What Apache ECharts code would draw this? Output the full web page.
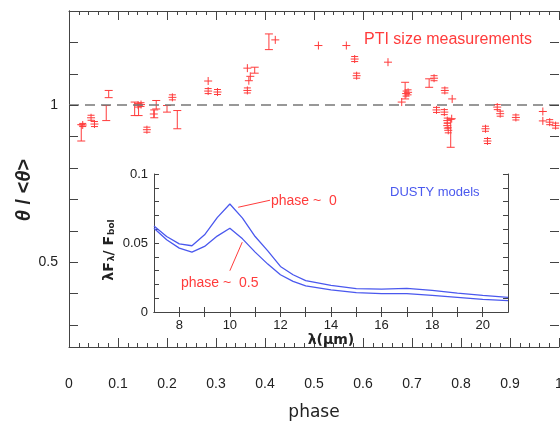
<!DOCTYPE html>
<html>
<head>
<meta charset="utf-8">
<script src="https://cdn.jsdelivr.net/npm/echarts@6/dist/echarts.min.js"></script>
</head>
<body style="margin:0;background:#fff">
<div id="chart" style="width:560px;height:421px"></div>
<script>
// PTI size measurements: [phase, theta/<theta>, half error]
var ptiPoints = [
    [0.028, 0.937, 0.005], [0.045, 0.960, 0.008], [0.052, 0.940, 0.008],
    [0.141, 1.000, 0.006], [0.147, 1.002, 0.006], [0.159, 0.922, 0.008],
    [0.173, 0.972, 0], [0.211, 1.025, 0.008], [0.284, 1.077, 0],
    [0.284, 1.045, 0.008], [0.303, 1.042, 0.008], [0.364, 1.047, 0.008],
    [0.367, 1.078, 0], [0.370, 1.092, 0], [0.364, 1.118, 0],
    [0.421, 1.208, 0], [0.509, 1.190, 0], [0.566, 1.190, 0],
    [0.583, 1.147, 0.008], [0.587, 1.094, 0.008], [0.651, 1.137, 0],
    [0.679, 1.010, 0], [0.688, 1.037, 0.008], [0.692, 1.041, 0.008],
    [0.745, 1.086, 0.008], [0.767, 1.047, 0.008], [0.782, 1.020, 0],
    [0.750, 0.985, 0.008], [0.766, 0.978, 0.008], [0.772, 0.951, 0.008],
    [0.781, 0.957, 0], [0.772, 0.935, 0.008], [0.774, 0.920, 0.008],
    [0.850, 0.925, 0.008], [0.854, 0.886, 0.008], [0.874, 0.994, 0.008],
    [0.880, 0.973, 0.008], [0.912, 0.961, 0.008], [0.967, 0.980, 0],
    [0.967, 0.950, 0], [0.981, 0.946, 0.008], [0.993, 0.935, 0.008]
];
// larger error bars: [phase, low, high]
var ptiBars = [
    [0.025, 0.886, 0.938], [0.081, 1.024, 1.047], [0.076, 0.951, 0.999],
    [0.134, 0.967, 1.010], [0.142, 0.967, 1.004], [0.174, 0.960, 0.985],
    [0.178, 0.988, 1.015], [0.200, 0.978, 0.999], [0.221, 0.925, 0.983],
    [0.379, 1.102, 1.121], [0.408, 1.177, 1.227], [0.686, 1.020, 1.073],
    [0.735, 1.057, 1.084], [0.779, 0.866, 0.955]
];
var yTicks = [0.3, 0.4, 0.5, 0.6, 0.7, 0.8, 0.9, 1.0, 1.1, 1.2];
var yLabels = [0.5, 1];

// DUSTY models (inset)
var wavelengths = [7, 7.5, 8, 8.5, 9, 9.5, 10, 10.5, 11, 11.5, 12, 12.5, 13, 14, 15, 16, 17, 18, 19, 20, 21];
var dustyPhase0 = [0.0624, 0.0547, 0.0494, 0.0480, 0.0559, 0.0684, 0.0783, 0.0680, 0.0547, 0.0443, 0.0330,
    0.0270, 0.0227, 0.0193, 0.0169, 0.0166, 0.0171, 0.0157, 0.0137, 0.0120, 0.0106];
var dustyPhase05 = [0.0607, 0.0523, 0.0463, 0.0434, 0.0475, 0.0550, 0.0607, 0.0530, 0.0434, 0.0347, 0.0270,
    0.0222, 0.0190, 0.0161, 0.0140, 0.0133, 0.0133, 0.0120, 0.0106, 0.0092, 0.0082];
var insetXLabels = [8, 10, 12, 14, 16, 18, 20];
var insetXTicks = [8, 9, 10, 11, 12, 13, 14, 15, 16, 17, 18, 19, 20];
var insetYLabels = [0, 0.05, 0.1];

var red = '#ff3b3b';
var blue = '#4a58ee';
var axisColor = '#444';
var font = 'Liberation Sans';

function pairs(xs, ys) {
    return xs.map(function (x, i) { return [x, ys[i]]; });
}

function renderPoint(params, api) {
    var x = api.value(0), v = api.value(1), e = api.value(2);
    var c = api.coord([x, v]);
    var st = { stroke: red, lineWidth: 1 };
    var kids = [
        { type: 'line', shape: { x1: c[0] - 4, y1: c[1], x2: c[0] + 4, y2: c[1] }, style: st },
        { type: 'line', shape: { x1: c[0], y1: c[1] - 4, x2: c[0], y2: c[1] + 4 }, style: st }
    ];
    if (e > 0) {
        var t = api.coord([x, v + e])[1], b = api.coord([x, v - e])[1];
        kids.push({ type: 'line', shape: { x1: c[0] - 3.5, y1: t, x2: c[0] + 3.5, y2: t }, style: st });
        kids.push({ type: 'line', shape: { x1: c[0] - 3.5, y1: b, x2: c[0] + 3.5, y2: b }, style: st });
    }
    return { type: 'group', children: kids };
}

function renderBar(params, api) {
    var x = api.value(0);
    var lo = api.coord([x, api.value(1)]);
    var hi = api.coord([x, api.value(2)]);
    var st = { stroke: red, lineWidth: 1 };
    return {
        type: 'group',
        children: [
            { type: 'line', shape: { x1: lo[0], y1: lo[1], x2: hi[0], y2: hi[1] }, style: st },
            { type: 'line', shape: { x1: lo[0] - 4, y1: lo[1], x2: lo[0] + 4, y2: lo[1] }, style: st },
            { type: 'line', shape: { x1: hi[0] - 4, y1: hi[1], x2: hi[0] + 4, y2: hi[1] }, style: st }
        ]
    };
}

// y axis that only draws ticks, placed on the opposite edge so ticks point into the plot
function tickAxis(grid, pos, offset, min, max, extra) {
    var ax = {
        gridIndex: grid, type: 'value', min: min, max: max, position: pos, offset: offset, z: 6,
        axisLine: { show: false },
        axisTick: { show: true, inside: false, length: extra.length, lineStyle: { color: axisColor } },
        axisLabel: { show: false },
        splitLine: { show: false }
    };
    if (extra.customValues) ax.axisTick.customValues = extra.customValues;
    if (extra.interval) ax.interval = extra.interval;
    return ax;
}

var chart = echarts.init(document.getElementById('chart'));

var option = {
    animation: false,
    backgroundColor: '#fff',
    grid: [
        { left: 69, top: 11, width: 490, height: 336, outerBoundsMode: 'none', containLabel: false },
        { left: 154, top: 174, width: 354, height: 138, outerBoundsMode: 'none', containLabel: false,
          show: true, backgroundColor: '#fff', borderWidth: 0, z: 5 }
    ],
    xAxis: [{
        gridIndex: 0, type: 'value', min: 0, max: 1, interval: 0.1, position: 'bottom',
        axisLine: { lineStyle: { color: axisColor } },
        axisTick: { inside: true, length: 9, lineStyle: { color: axisColor } },
        minorTick: { show: true, splitNumber: 5, length: 4, lineStyle: { color: axisColor } },
        axisLabel: { margin: 30, fontSize: 14, color: '#222', fontFamily: font },
        splitLine: { show: false },
        name: 'phase', nameLocation: 'middle', nameGap: 57,
        nameTextStyle: { fontSize: 17, color: '#222', fontFamily: 'DejaVu Sans' }
    }, {
        gridIndex: 0, type: 'value', min: 0, max: 1, interval: 0.1, position: 'top',
        axisLine: { lineStyle: { color: axisColor } },
        axisTick: { inside: true, length: 9, lineStyle: { color: axisColor } },
        minorTick: { show: true, splitNumber: 5, length: 4, lineStyle: { color: axisColor } },
        axisLabel: { show: false },
        splitLine: { show: false }
    }, {
        gridIndex: 1, type: 'value', min: 7, max: 21, position: 'bottom', z: 6,
        axisLine: { lineStyle: { color: axisColor } },
        axisTick: { inside: true, length: 5, customValues: insetXTicks, lineStyle: { color: axisColor } },
        axisLabel: { margin: 7, fontSize: 13, color: '#222', fontFamily: font, customValues: insetXLabels },
        splitLine: { show: false },
        name: 'λ(μm)', nameLocation: 'middle', nameGap: 21,
        nameTextStyle: { fontSize: 14, fontWeight: 'bold', color: '#222', fontFamily: 'DejaVu Sans' }
    }, {
        gridIndex: 1, type: 'value', min: 7, max: 21, position: 'top', z: 6,
        axisLine: { lineStyle: { color: axisColor } },
        axisTick: { inside: true, length: 5, customValues: insetXTicks, lineStyle: { color: axisColor } },
        axisLabel: { show: false },
        splitLine: { show: false }
    }],
    yAxis: [{
        gridIndex: 0, type: 'value', min: 0.23, max: 1.3, position: 'left',
        axisLine: { show: true, lineStyle: { color: axisColor } },
        axisTick: { show: false },
        axisLabel: { margin: 11, fontSize: 14, color: '#222', fontFamily: font, customValues: yLabels },
        splitLine: { show: false }
    }, {
        gridIndex: 0, type: 'value', min: 0.23, max: 1.3, position: 'right',
        axisLine: { show: true, lineStyle: { color: axisColor } },
        axisTick: { show: false },
        axisLabel: { show: false },
        splitLine: { show: false }
    },
    tickAxis(0, 'right', -490, 0.23, 1.3, { length: 9, customValues: yTicks }),
    tickAxis(0, 'left', -490, 0.23, 1.3, { length: 9, customValues: yTicks }),
    {
        gridIndex: 1, type: 'value', min: 0, max: 0.1, interval: 0.01, position: 'left', z: 6,
        axisLine: { show: true, lineStyle: { color: axisColor } },
        axisTick: { show: false },
        axisLabel: { margin: 6, fontSize: 13, color: '#222', fontFamily: font, customValues: insetYLabels },
        splitLine: { show: false }
    }, {
        gridIndex: 1, type: 'value', min: 0, max: 0.1, interval: 0.01, position: 'right', z: 6,
        axisLine: { show: true, lineStyle: { color: axisColor } },
        axisTick: { show: false },
        axisLabel: { show: false },
        splitLine: { show: false }
    },
    tickAxis(1, 'right', -354, 0, 0.1, { length: 5, interval: 0.01 }),
    tickAxis(1, 'left', -354, 0, 0.1, { length: 5, interval: 0.01 })
    ],
    series: [{
        type: 'custom', xAxisIndex: 0, yAxisIndex: 0,
        renderItem: renderBar, data: ptiBars, z: 3
    }, {
        type: 'custom', xAxisIndex: 0, yAxisIndex: 0,
        renderItem: renderPoint, data: ptiPoints, z: 3,
        markLine: {
            silent: true, symbol: 'none', label: { show: false },
            lineStyle: { color: '#777', type: [10, 6], width: 1.5 },
            data: [{ yAxis: 1 }]
        }
    }, {
        name: 'phase ~ 0', type: 'line', xAxisIndex: 2, yAxisIndex: 4, z: 7,
        data: pairs(wavelengths, dustyPhase0), showSymbol: false,
        lineStyle: { color: blue, width: 1.3 },
        markLine: {
            silent: true, symbol: 'none', label: { show: false },
            lineStyle: { color: red, type: 'solid', width: 1 },
            data: [
                [{ coord: [10.33, 0.0759] }, { coord: [11.59, 0.0810] }]
            ]
        }
    }, {
        name: 'phase ~ 0.5', type: 'line', xAxisIndex: 2, yAxisIndex: 4, z: 7,
        data: pairs(wavelengths, dustyPhase05), showSymbol: false,
        lineStyle: { color: blue, width: 1.3 },
        markLine: {
            silent: true, symbol: 'none', label: { show: false },
            lineStyle: { color: red, type: 'solid', width: 1 },
            data: [
                [{ coord: [10.0, 0.0299] }, { coord: [10.49, 0.0506] }]
            ]
        }
    }],
    graphic: [{
        type: 'text', x: 364, y: 40, z: 10,
        style: { text: 'PTI size measurements', fill: red, font: '16px "Liberation Sans"', textVerticalAlign: 'middle' }
    }, {
        type: 'text', x: 24, y: 190, rotation: Math.PI / 2, z: 10,
        style: {
            text: '{t|θ} / <{t|θ}>', textAlign: 'center', textVerticalAlign: 'middle',
            font: 'bold 20px "Liberation Sans"', fill: '#222',
            rich: { t: { fontStyle: 'italic', fontWeight: 'bold', fontSize: 20, fontFamily: 'Liberation Sans' } }
        }
    }, {
        type: 'text', x: 106, y: 250, rotation: Math.PI / 2, z: 10,
        style: {
            text: '{a|λF}{s|λ}{a|/ F}{s|bol}', textAlign: 'center', textVerticalAlign: 'middle', fill: '#222',
            rich: {
                a: { fontSize: 14, fontWeight: 'bold', fontFamily: 'DejaVu Sans', lineHeight: 20, verticalAlign: 'bottom' },
                s: { fontSize: 9, fontWeight: 'bold', fontFamily: 'DejaVu Sans', lineHeight: 20, verticalAlign: 'bottom', padding: [8, 0, 0, 1] }
            }
        }
    }, {
        type: 'text', x: 390, y: 192, z: 10,
        style: { text: 'DUSTY models', fill: blue, font: '13px "Liberation Sans"', textVerticalAlign: 'middle' }
    }, {
        type: 'text', x: 271, y: 201, z: 10,
        style: { text: 'phase ~  0', fill: red, font: '14px "Liberation Sans"', textVerticalAlign: 'middle' }
    }, {
        type: 'text', x: 181, y: 283, z: 10,
        style: { text: 'phase ~  0.5', fill: red, font: '14px "Liberation Sans"', textVerticalAlign: 'middle' }
    }]
};

chart.setOption(option);
</script>
</body>
</html>
